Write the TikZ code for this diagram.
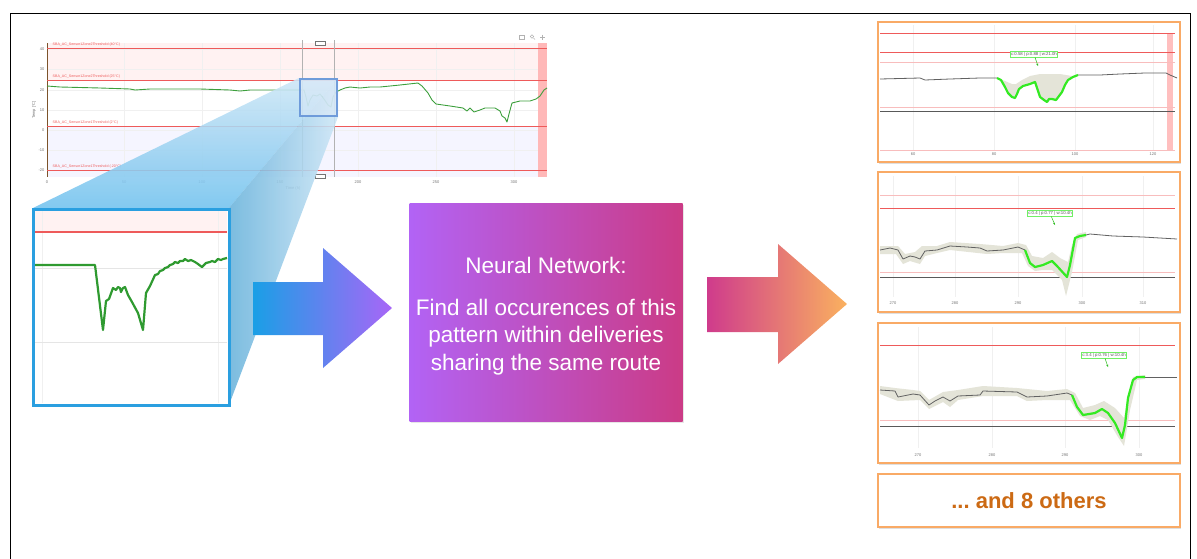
\documentclass[tikz,border=0pt]{standalone}
\usepackage{fontspec}
\setmainfont{Liberation Sans}
\usetikzlibrary{shadows,arrows.meta}

\definecolor{thrred}{HTML}{EE5A5A}
\definecolor{chartgreen}{HTML}{3C9F3C}
\definecolor{zoomgreen}{HTML}{2F9A30}
\definecolor{hitgreen}{HTML}{33EA22}
\definecolor{bandgrey}{HTML}{E4E4D8}
\definecolor{boxblue}{HTML}{2A9FE0}
\definecolor{zoomdeep}{HTML}{72C2EE}
\definecolor{zoomlight}{HTML}{CDE6F6}
\definecolor{selblue}{HTML}{5F8FD6}
\definecolor{arrblue}{HTML}{1A9FE6}
\definecolor{arrviolet}{HTML}{A866F7}
\definecolor{arrmagenta}{HTML}{CF3B8C}
\definecolor{arrorange}{HTML}{FAB15F}
\definecolor{nnleft}{HTML}{B263F5}
\definecolor{nnright}{HTML}{CB3B86}
\definecolor{panelorange}{HTML}{F9AA66}
\definecolor{othersorange}{HTML}{CC6A14}

\begin{document}
\begin{tikzpicture}[x=1pt,y=-1pt,
  grid/.style={black!6,line width=0.4pt},
  thr/.style={thrred,line width=0.8pt},
  thrsoft/.style={thrred!40,line width=0.9pt},
  base/.style={black!65,line width=1pt},
  series/.style={black!62,line width=0.8pt,line join=round},
  hit/.style={hitgreen,line width=2.2pt,line join=round},
  tick/.style={font=\fontsize{4}{5}\selectfont,text=black!55,inner sep=0.5pt},
  thrlabel/.style={font=\fontsize{3.6}{4}\selectfont,text=thrred,inner sep=0.5pt,anchor=south west},
  tag/.style={draw=hitgreen!70,fill=white,inner sep=0.8pt,font=\fontsize{4.3}{5}\selectfont,text=black!65},
  tagarrow/.style={hitgreen!80!black,line width=0.5pt,-{Stealth[length=2.5pt,width=2pt]}},
  panel/.style={draw=panelorange,line width=1.6pt,fill=white,minimum width=302pt,
    drop shadow={shadow xshift=1pt,shadow yshift=-1.5pt,opacity=0.25}},
]
\useasboundingbox (0,0) rectangle (1197,558);
\draw[black,line width=0.8pt] (10,575) -- (10,13) -- (1190,13) -- (1190,575);

% overview chart
\fill[red!5] (47,43) rectangle (547,80);
\fill[blue!4] (47,127) rectangle (547,177);
\foreach \x in {47,124,202,280,358,436,514}
  \draw[grid] (\x,43) -- (\x,177);
\foreach \y in {49,69,90,110,130,150,170}
  \draw[grid] (47,\y) -- (547,\y);
\draw[black!35!brown,line width=0.4pt] (47,43) -- (47,177);
\fill[red!28] (538,43) rectangle (547,177);
\foreach \y/\v in {49/40,69/30,90/20,110/10,130/0,150/-10,170/-20}
  \node[tick,left] (yt\v) at (45,\y) {\v};
\foreach \x/\t in {47/0,124/50,202/100,280/150,358/200,436/250,514/300}
  \node[tick] (xt\t) at (\x,182) {\t};
\node[tick] (xtitle) at (293,188) {Time (h)};
\node[tick,rotate=90] (ytitle) at (34,110) {Temp [°C]};
\draw[thr] (47,48) -- (547,48);
\draw[thr] (47,80) -- (547,80);
\draw[thr] (47,126) -- (547,126);
\draw[thr] (47,170) -- (547,170);
\node[thrlabel] (thr1) at (52,47) {SBA\_AC\_Sensor1Zone2Threshold (40°C)};
\node[thrlabel] (thr2) at (52,79) {SBA\_AC\_Sensor1Zone2Threshold (25°C)};
\node[thrlabel] (thr3) at (52,125) {SBA\_AC\_Sensor1Zone1Threshold (2°C)};
\node[thrlabel] (thr4) at (52,169) {SBA\_AC\_Sensor1Zone1Threshold (-20°C)};
\draw[chartgreen,line width=0.9pt,line join=round] plot coordinates {
  (47,86) (60,87) (100,88) (130,89) (135,90) (150,89) (200,89) (230,90) (240,91)
  (250,90) (304,90) (306,97) (308,106) (310,100) (313,95) (317,96) (320,94)
  (324,99) (328,105) (331,107) (333,97) (336,92) (340,90) (345,88) (350,87)
  (360,88) (370,87) (380,87) (400,85) (418,83) (422,86) (428,93) (432,100)
  (436,104) (450,106) (463,108) (467,111) (470,108) (474,112) (480,110)
  (485,108) (495,108) (500,111) (502,116) (505,118) (507,122) (509,114)
  (512,103) (520,101) (530,101) (536,99) (540,96) (544,90) (547,88)};
\draw[black!30,line width=0.5pt] (302,40) -- (302,177);
\draw[black!30,line width=0.5pt] (334,40) -- (334,177);
\draw[black!55,fill=white,line width=0.4pt] (315,41) rectangle (325,45);
\draw[black!55,fill=white,line width=0.4pt] (315,174) rectangle (325,178);
\draw[black!30,line width=0.5pt] (519,35) rectangle (524,39);
\draw[black!30,line width=0.5pt] (532,36.5) circle (1.8pt) (533.5,38) -- (535,39.5);
\draw[black!30,line width=0.5pt] (540,37) -- (545,37) (542.5,34.5) -- (542.5,39.5);

% zoom frustum
\shade[top color=zoomlight,bottom color=zoomdeep,fill opacity=0.88]
  (299,78) -- (338,78) -- (229,208) -- (33,208) -- cycle;
\shade[left color=zoomdeep!92!black,right color=zoomlight,fill opacity=0.88]
  (338,78) -- (338,117) -- (229,405) -- (229,208) -- cycle;
\draw[selblue,line width=2.5pt,fill=selblue!20,fill opacity=0.45,draw opacity=0.85]
  (300,79) rectangle (337,116);

% zoomed pattern
\node[draw=boxblue,line width=3pt,fill=white,minimum width=196pt,minimum height=196pt,
  inner sep=0pt] (zoombox) at (131,307) {};
\fill[red!5] (35,211) rectangle (227,232);
\draw[grid] (42,211) -- (42,403);
\draw[grid] (218,211) -- (218,403);
\draw[black!10,line width=0.8pt] (35,268) -- (227,268);
\draw[black!10,line width=0.8pt] (35,342) -- (227,342);
\draw[thrred,line width=1.1pt] (35,232) -- (227,232);
\draw[zoomgreen,line width=2.2pt,line join=round] plot coordinates {
  (35,265) (95,265) (103,330) (106,301) (109,299) (113,288) (116,290) (118,287)
  (120,288) (121,292) (123,288) (125,287) (128,295) (132,302) (138,313)
  (143,330) (146,293) (150,286) (155,275) (158,274) (160,271) (163,270)
  (165,268) (168,267) (170,265) (173,264) (175,262) (178,263) (180,261)
  (183,261) (185,259) (188,261) (191,260) (195,262) (198,264) (202,267)
  (206,263) (210,262) (212,261) (215,262) (218,259) (221,260) (223,259)
  (227,258)};

% arrows and network
\shade[left color=arrblue,right color=arrviolet]
  (253,282) -- (323,282) -- (323,248) -- (392,308) -- (323,368) -- (323,335)
  -- (253,335) -- cycle;
\node[left color=nnleft,right color=nnright,minimum width=273pt,minimum height=218pt,
  drop shadow={shadow xshift=1pt,shadow yshift=-1.5pt,opacity=0.2}] (nn) at (546,312) {};
\node[text=white,align=center,font=\fontsize{22.5}{27.5}\selectfont] (nntext) at (546,316)
  {Neural Network:\\[14pt]Find all occurences of this\\pattern within deliveries\\sharing the same route};
\shade[left color=arrmagenta,right color=arrorange]
  (707,277) -- (778,277) -- (778,244) -- (847,304) -- (778,364) -- (778,332)
  -- (707,332) -- cycle;

% matches
\node[panel,minimum height=140pt] (match1) at (1029,92) {};
\node[panel,minimum height=140pt] (match2) at (1029,242) {};
\node[panel,minimum height=140pt] (match3) at (1029,393) {};
\node[panel,minimum height=53pt,text=othersorange,
  font=\bfseries\fontsize{22}{26}\selectfont\frenchspacing] (others) at (1029,500.5) {...\ and 8 others};

% match 1
\foreach \x/\t in {913/60,994/80,1075/100,1153/120} {
  \draw[grid] (\x,25) -- (\x,150);
  \node[tick] (m1x\t) at (\x,154) {\t};
}
\fill[red!25] (1167,33) rectangle (1173,150);
\draw[thr] (880,33) -- (1175,33);
\draw[thr] (880,52) -- (1175,52);
\draw[thrsoft] (880,62) -- (1175,62);
\draw[thrsoft] (880,107) -- (1175,107);
\draw[base] (880,111) -- (1175,111);
\draw[thrsoft] (880,150) -- (1175,150);
\fill[bandgrey] (997,78) -- (1005,81) -- (1012,84) -- (1016,84) -- (1022,80) -- (1030,76)
  -- (1040,74) -- (1060,74) -- (1072,76) -- (1078,75) -- (1073,77) -- (1068,80)
  -- (1065,85) -- (1062,92) -- (1059,96) -- (1056,100) -- (1052,99) -- (1049,99)
  -- (1047,102) -- (1044,100) -- (1040,97) -- (1037,88) -- (1035,82) -- (1030,84)
  -- (1023,86) -- (1019,89) -- (1017,94) -- (1015,98) -- (1012,97) -- (1008,93)
  -- (1005,87) -- (1001,80) -- cycle;
\draw[series] plot coordinates {(880,79) (920,78) (925,80) (950,79) (980,78) (997,78)};
\draw[series] plot coordinates {(1078,75) (1100,75) (1120,74) (1145,73) (1166,73) (1170,75) (1177,78)};
\draw[hit] plot coordinates {(997,78) (1001,80) (1005,87) (1008,93) (1012,97) (1015,98)
  (1017,94) (1019,89) (1023,86) (1030,84) (1035,82) (1037,88) (1040,97) (1044,100)
  (1047,102) (1049,99) (1052,99) (1056,100) (1059,96) (1062,92) (1065,85) (1068,80)
  (1073,77) (1078,75)};
\node[tag] (tag1) at (1034,54.5) {c:0.58 | p:0.88 | w:21.0h};
\coordinate (hit1) at (1038,66);
\draw[tagarrow] (tag1) -- (hit1);

% match 2
\foreach \x/\t in {893/270,955/280,1018/290,1082/300,1143/310} {
  \draw[grid] (\x,176) -- (\x,297);
  \node[tick] (m2x\t) at (\x,303) {\t};
}
\draw[thrsoft] (880,195) -- (1175,195);
\draw[thr] (880,208) -- (1175,208);
\draw[thrsoft] (880,272) -- (1175,272);
\draw[base] (880,277) -- (1175,277);
\fill[bandgrey] (880,246) -- (898,246) -- (905,254) -- (915,252) -- (922,246) -- (937,246)
  -- (950,242) -- (980,244) -- (1003,246) -- (1018,243) -- (1026,245) -- (1032,256)
  -- (1043,258) -- (1052,252) -- (1060,258) -- (1068,262) -- (1072,245) -- (1077,234)
  -- (1086,232) -- (1086,237) -- (1078,240) -- (1072,272) -- (1066,296) -- (1062,280)
  -- (1052,270) -- (1043,270) -- (1035,271) -- (1028,266) -- (1022,253) -- (1003,253)
  -- (987,254) -- (950,250) -- (937,253) -- (925,256) -- (920,264) -- (910,261)
  -- (903,264) -- (896,254) -- (880,254) -- cycle;
\draw[series] plot coordinates {(880,250) (890,248) (898,250) (903,259) (910,256)
  (915,257) (920,259) (925,251) (937,250) (950,246) (967,247) (980,248) (987,251)
  (1003,250) (1018,247) (1025,250)};
\draw[series] plot coordinates {(1086,235) (1090,234) (1113,236) (1143,237) (1177,239)};
\draw[hit] plot coordinates {(1025,250) (1030,263) (1035,267) (1043,265) (1052,261)
  (1057,266) (1067,277) (1070,265) (1075,238) (1080,236) (1086,235)};
\node[tag] (tag2) at (1050,213.5) {c:0.4 | p:0.77 | w:10.4h};
\coordinate (hit2) at (1055,225);
\draw[tagarrow] (tag2) -- (hit2);

% match 3
\foreach \x/\t in {918/270,992/280,1065/290,1139/300} {
  \draw[grid] (\x,327) -- (\x,448);
  \node[tick] (m3x\t) at (\x,455) {\t};
}
\draw[thr] (880,345) -- (1175,345);
\draw[thrsoft] (880,420) -- (1175,420);
\draw[base] (880,426) -- (1175,426);
\fill[bandgrey] (880,386) -- (895,388) -- (913,390) -- (920,391) -- (929,400) -- (943,392)
  -- (958,390) -- (983,386) -- (1017,388) -- (1047,391) -- (1067,389) -- (1075,393)
  -- (1083,408) -- (1095,405) -- (1104,401) -- (1115,408) -- (1124,418) -- (1128,395)
  -- (1133,377) -- (1145,375) -- (1145,379) -- (1137,380) -- (1130,410) -- (1124,446)
  -- (1118,437) -- (1108,420) -- (1100,416) -- (1090,420) -- (1080,416) -- (1070,400)
  -- (1047,400) -- (1027,401) -- (1017,396) -- (983,396) -- (958,400) -- (950,407)
  -- (943,402) -- (935,406) -- (929,409) -- (920,400) -- (898,401) -- (880,394) -- cycle;
\draw[series] plot coordinates {(880,390) (895,391) (898,397) (913,394) (920,395)
  (929,405) (935,401) (943,397) (950,401) (958,396) (980,395) (983,391) (1017,392)
  (1027,397) (1047,396) (1067,393) (1072,395)};
\draw[series] plot coordinates {(1145,377) (1177,377)};
\draw[hit] plot coordinates {(1072,395) (1077,407) (1083,415) (1095,413) (1102,409)
  (1108,413) (1115,423) (1122,438) (1125,425) (1128,398) (1133,380) (1137,377) (1145,377)};
\node[tag] (tag3) at (1104,355.5) {c:3.4 | p:0.76 | w:10.4h};
\coordinate (hit3) at (1108,367);
\draw[tagarrow] (tag3) -- (hit3);
\end{tikzpicture}
\end{document}
